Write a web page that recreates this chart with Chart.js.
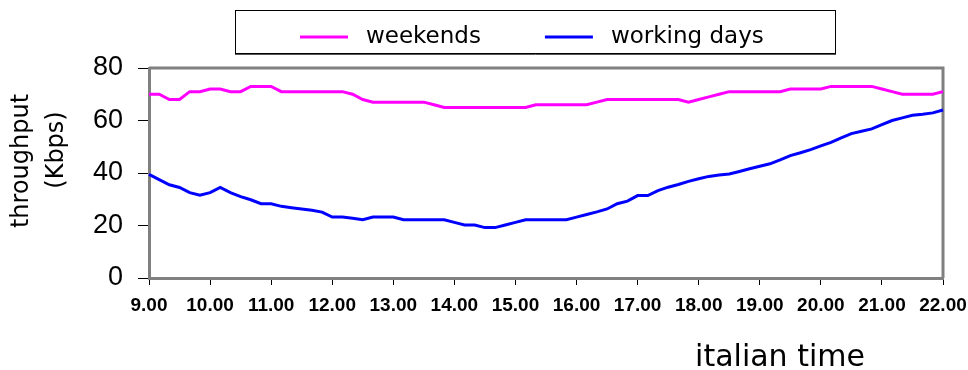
<!DOCTYPE html>
<html>
<head>
<meta charset="utf-8">
<script src="https://cdn.jsdelivr.net/npm/chart.js@4.4.1/dist/chart.umd.min.js"></script>
<style>
  html, body { margin: 0; padding: 0; background: #ffffff; }
  #wrap { width: 968px; height: 370px; }
</style>
</head>
<body>
<div id="wrap"><canvas id="c" width="968" height="370"></canvas></div>
<script>
// ---- data ----
const timeLabels = [
  "9.00","9.10","9.20","9.30","9.40","9.50",
  "10.00","10.10","10.20","10.30","10.40","10.50",
  "11.00","11.10","11.20","11.30","11.40","11.50",
  "12.00","12.10","12.20","12.30","12.40","12.50",
  "13.00","13.10","13.20","13.30","13.40","13.50",
  "14.00","14.10","14.20","14.30","14.40","14.50",
  "15.00","15.10","15.20","15.30","15.40","15.50",
  "16.00","16.10","16.20","16.30","16.40","16.50",
  "17.00","17.10","17.20","17.30","17.40","17.50",
  "18.00","18.10","18.20","18.30","18.40","18.50",
  "19.00","19.10","19.20","19.30","19.40","19.50",
  "20.00","20.10","20.20","20.30","20.40","20.50",
  "21.00","21.10","21.20","21.30","21.40","21.50",
  "22.00"
];

const weekends = [
  70, 70, 68, 68, 71, 71,
  72, 72, 71, 71, 73, 73,
  73, 71, 71, 71, 71, 71,
  71, 71, 70, 68, 67, 67,
  67, 67, 67, 67, 66, 65,
  65, 65, 65, 65, 65, 65,
  65, 65, 66, 66, 66, 66,
  66, 66, 67, 68, 68, 68,
  68, 68, 68, 68, 68, 67,
  68, 69, 70, 71, 71, 71,
  71, 71, 71, 72, 72, 72,
  72, 73, 73, 73, 73, 73,
  72, 71, 70, 70, 70, 70,
  71
];

const workingDays = [
  39.5, 37.5, 35.5, 34.5, 32.5, 31.5,
  32.5, 34.5, 32.5, 31.0, 29.8, 28.3,
  28.3, 27.3, 26.8, 26.3, 25.8, 25.1,
  23.2, 23.2, 22.8, 22.2, 23.2, 23.2,
  23.2, 22.2, 22.2, 22.2, 22.2, 22.2,
  21.2, 20.2, 20.2, 19.2, 19.2, 20.2,
  21.2, 22.2, 22.2, 22.2, 22.2, 22.2,
  23.2, 24.2, 25.2, 26.3, 28.3, 29.3,
  31.4, 31.4, 33.3, 34.6, 35.6, 36.8,
  37.8, 38.7, 39.2, 39.6, 40.6, 41.6,
  42.6, 43.5, 45.0, 46.6, 47.7, 48.9,
  50.3, 51.7, 53.4, 55.0, 55.9, 56.8,
  58.4, 60.0, 61.0, 62.0, 62.4, 62.9,
  64.0
];

const seriesNames = ["weekends", "working days"];
const yTitleLines = ["throughput", "(Kbps)"];
const xTitle = "italian time";
const yTicks = [0, 20, 40, 60, 80];

// ---- styles ----
const PINK = "#ff00ff";
const BLUE = "#0000ff";
const FRAME = "#808080";
const SANS = "'Liberation Sans', Arial, sans-serif";
const LEGEND_FONT = "'DejaVu Sans', Verdana, sans-serif";

const decor = {
  id: "decor",
  beforeDatasetsDraw(chart) {
    const { ctx, chartArea: a } = chart;
    ctx.save();
    ctx.strokeStyle = FRAME;
    ctx.lineWidth = 3;
    ctx.beginPath();
    ctx.moveTo(a.left, a.top);
    ctx.lineTo(a.right, a.top);
    ctx.lineTo(a.right, a.bottom);
    ctx.stroke();
    ctx.restore();
  },
  afterDraw(chart) {
    const { ctx } = chart;
    ctx.save();
    // legend box
    const bx = 235, by = 10, bw = 600, bh = 43;
    ctx.strokeStyle = "#000";
    ctx.lineWidth = 1;
    ctx.strokeRect(bx + 0.5, by + 0.5, bw, bh);
    ctx.strokeStyle = "#555";
    ctx.beginPath();
    ctx.moveTo(bx, by + bh + 1.5);
    ctx.lineTo(bx + bw + 1, by + bh + 1.5);
    ctx.stroke();

    ctx.font = "23px " + LEGEND_FONT;
    ctx.textBaseline = "alphabetic";
    ctx.textAlign = "left";
    const lineLen = 48, gapText = 18, gapItem = 64;
    const ds = chart.data.datasets;
    let x = bx + 65;
    const lineY = 37, textY = 43;
    ds.forEach((d) => {
      ctx.strokeStyle = d.borderColor;
      ctx.lineWidth = 3;
      ctx.beginPath();
      ctx.moveTo(x, lineY);
      ctx.lineTo(x + lineLen, lineY);
      ctx.stroke();
      x += lineLen + gapText;
      ctx.fillStyle = "#000";
      ctx.fillText(d.label, x, textY);
      x += ctx.measureText(d.label).width + gapItem;
    });

    // y axis title (two lines, rotated)
    ctx.font = "24px " + LEGEND_FONT;
    ctx.fillStyle = "#000";
    ctx.textAlign = "center";
    ctx.textBaseline = "middle";
    const yPos = [[22, 161], [57, 150]];
    yTitleLines.forEach((t, i) => {
      ctx.save();
      ctx.translate(yPos[i][0], yPos[i][1]);
      ctx.rotate(-Math.PI / 2);
      ctx.fillText(t, 0, 0);
      ctx.restore();
    });

    // x axis title
    ctx.font = "30px " + LEGEND_FONT;
    ctx.textAlign = "center";
    ctx.textBaseline = "alphabetic";
    ctx.fillText(xTitle, 780, 366);
    ctx.restore();
  }
};

new Chart(document.getElementById("c"), {
  type: "line",
  data: {
    labels: timeLabels,
    datasets: [
      { label: seriesNames[0], data: weekends, borderColor: PINK, backgroundColor: PINK,
        borderWidth: 3, pointRadius: 0, tension: 0, fill: false },
      { label: seriesNames[1], data: workingDays, borderColor: BLUE, backgroundColor: BLUE,
        borderWidth: 3, pointRadius: 0, tension: 0, fill: false }
    ]
  },
  options: {
    responsive: false,
    devicePixelRatio: 1,
    animation: false,
    events: [],
    layout: { padding: { top: 68, right: 25, left: 0, bottom: 0 } },
    plugins: {
      legend: { display: false },
      title: { display: false },
      tooltip: { enabled: false }
    },
    scales: {
      x: {
        type: "category",
        offset: false,
        grid: {
          drawOnChartArea: false,
          drawTicks: true,
          tickLength: 7,
          lineWidth: 1,
          tickColor: (c) => (c.tick && c.tick.label ? "#000" : "rgba(0,0,0,0)")
        },
        border: { display: true, color: FRAME, width: 3 },
        ticks: {
          autoSkip: false,
          maxRotation: 0,
          minRotation: 0,
          padding: 9,
          color: "#000",
          font: { family: SANS, size: 19, weight: "bold" },
          callback: function (v) {
            const l = this.getLabelForValue(v);
            return l.endsWith(".00") ? l : "";
          }
        },
        afterFit: (s) => { s.height = 92; s.paddingLeft = 0; s.paddingRight = 0; }
      },
      y: {
        min: 0,
        max: 80,
        afterBuildTicks: (s) => { s.ticks = yTicks.map((v) => ({ value: v })); },
        grid: {
          drawOnChartArea: false,
          drawTicks: true,
          tickLength: 11,
          lineWidth: 1,
          tickColor: "#000"
        },
        border: { display: true, color: FRAME, width: 3 },
        ticks: {
          padding: 15,
          color: "#000",
          font: { family: SANS, size: 27 }
        },
        afterFit: (s) => { s.width = 149; }
      }
    }
  },
  plugins: [decor]
});
</script>
</body>
</html>
